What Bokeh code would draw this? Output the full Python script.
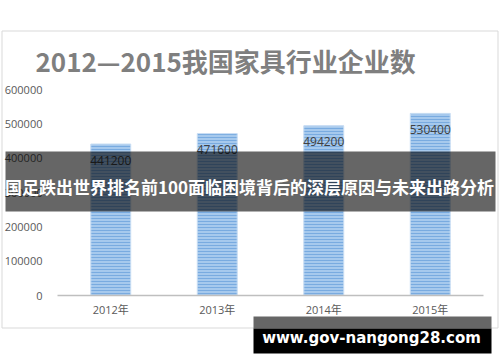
from bokeh.plotting import figure
from bokeh.models import (ColumnDataSource, FactorRange, Range1d, FixedTicker,
                          BasicTickFormatter)
from bokeh.core.properties import value
from bokeh.embed import file_html
from bokeh.resources import INLINE

# ---- data ----
categories = ["2012年", "2013年", "2014年", "2015年"]
counts = [441200, 471600, 494200, 530400]
count_labels = ["441200", "471600", "494200", "530400"]
y_ticks = [0, 100000, 200000, 300000, 400000, 500000, 600000]
chart_title = "2012—2015我国家具行业企业数"
banner_text = "国足跌出世界排名前100面临困境背后的深层原因与未来出路分析"
watermark_text = "www.gov-nangong28.com"

W, H = 500, 362
FL, FR, FT, FB = 57, 483, 89, 295   # plot-area edges in pixels
YMAX = 600000

src = ColumnDataSource(dict(cat=categories, val=counts, lab=count_labels))

p = figure(width=W, height=H, x_range=FactorRange(*categories, range_padding=0),
           y_range=Range1d(0, YMAX), output_backend="svg", toolbar_location=None,
           min_border_left=FL, min_border_right=W - FR,
           min_border_top=FT, min_border_bottom=H - FB,
           styles={"position": "absolute", "left": "0px", "top": "0px"})
p.background_fill_color = "white"
p.border_fill_color = "white"
p.outline_line_color = None
p.xgrid.visible = False
p.ygrid.visible = False

p.vbar(x="cat", top="val", width=0.375, source=src,
       fill_color="#a6c9ed", line_color="#c8ddf3", line_width=1,
       hatch_pattern="horizontal_line", hatch_color="#6aa2dc",
       hatch_scale=3, hatch_weight=1, hatch_alpha=0.75)

p.text(x="cat", y="val", text="lab", source=src, y_offset=16,
       text_align="center", text_baseline="middle",
       text_font=value("Open Sans"), text_font_size="12px", text_color="#404040")

yax = p.yaxis[0]
yax.ticker = FixedTicker(ticks=y_ticks)
yax.formatter = BasicTickFormatter(use_scientific=False)
yax.axis_line_color = None
yax.major_tick_line_color = None
yax.minor_tick_line_color = None
yax.major_label_standoff = 9
yax.major_label_text_font = "Open Sans"
yax.major_label_text_font_size = "11px"
yax.major_label_text_color = "#595959"

xax = p.xaxis[0]
xax.axis_line_color = "#bfbfbf"
xax.axis_line_width = 1.5
xax.major_tick_line_color = None
xax.minor_tick_line_color = None
xax.major_label_standoff = 0
xax.major_label_text_font = "Open Sans, Noto Sans CJK SC"
xax.major_label_text_font_size = "11px"
xax.major_label_text_color = "#595959"

# ---- overlay layer (page decorations, pixel coordinates, y downwards) ----
ov = figure(width=W, height=H, x_range=Range1d(0, W), y_range=Range1d(H, 0),
            output_backend="svg", toolbar_location=None,
            x_axis_type=None, y_axis_type=None, min_border=0,
            styles={"position": "absolute", "left": "0px", "top": "0px", "z-index": "10"})
ov.background_fill_alpha = 0
ov.border_fill_alpha = 0
ov.outline_line_color = None
ov.xgrid.visible = False
ov.ygrid.visible = False

# chart frame border
ov.quad(left=[1.5], right=[497.5], top=[30.5], bottom=[327.5],
        fill_alpha=0, line_color="#d9d9d9", line_width=1)
# chart title
ov.text(x=[35], y=[60], text=[chart_title], text_align="left", text_baseline="middle",
        text_font=value("Noto Sans CJK SC"), text_font_style="bold",
        text_font_size="26px", text_color="#7f7f7f")
# banner
ov.quad(left=[5], right=[495], top=[151], bottom=[211],
        fill_color="black", fill_alpha=0.6, line_color=None)
ov.text(x=[249], y=[186], text=[banner_text], text_align="center", text_baseline="middle",
        text_font=value("Noto Sans CJK SC"), text_font_style="bold",
        text_font_size="17px", text_color="white")
# watermark
ov.quad(left=[253], right=[491], top=[316], bottom=[328],
        fill_color="#666666", line_color=None)
ov.quad(left=[253], right=[491], top=[328], bottom=[353],
        fill_color="black", line_color=None)
ov.text(x=[371], y=[337], text=[watermark_text], text_align="center", text_baseline="middle",
        text_font=value("DejaVu Sans"), text_font_style="bold",
        text_font_size="15px", text_color="white")

open("out.html", "w").write(file_html([p, ov], INLINE))
